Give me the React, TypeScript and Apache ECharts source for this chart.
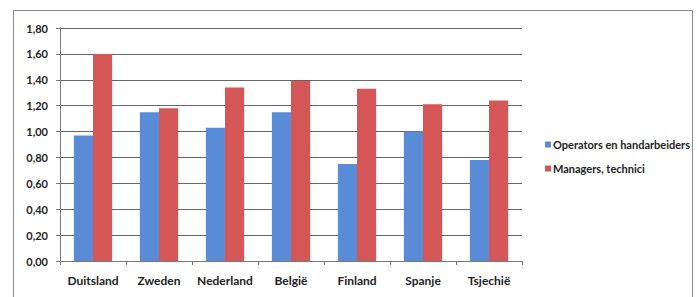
import React, { useEffect, useRef } from "react";
import * as echarts from "echarts";

const categories = ["Duitsland", "Zweden", "Nederland", "België", "Finland", "Spanje", "Tsjechië"];
const operators = [0.97, 1.15, 1.03, 1.15, 0.75, 1.0, 0.78];
const managers = [1.6, 1.18, 1.34, 1.39, 1.33, 1.21, 1.24];
const seriesNames = ["Operators en handarbeiders", "Managers, technici"];

const FONT = "Lato, 'Noto Sans', sans-serif";

export default function App() {
  const ref = useRef<HTMLDivElement>(null);
  useEffect(() => {
    document.body.style.margin = "0";
    const chart = echarts.init(ref.current!, null, { renderer: "svg" });
    chart.setOption({
      animation: false,
      backgroundColor: "#ffffff",
      textStyle: { fontFamily: FONT },
      graphic: [
        {
          type: "rect",
          shape: { x: 13.5, y: 10.5, width: 679, height: 320 },
          style: { fill: "none", stroke: "#8a8a8a", lineWidth: 1 },
          silent: true,
        },
      ],
      grid: { left: 60, right: 175, top: 28, bottom: 36 },
      legend: {
        orient: "vertical",
        left: 540,
        top: 134,
        itemWidth: 6,
        itemHeight: 6,
        itemGap: 13,
        icon: "rect",
        textStyle: { fontSize: 11, fontWeight: "bold", color: "#222", fontFamily: FONT, padding: [0, 0, 0, -3] },
        data: seriesNames,
      },
      xAxis: {
        type: "category",
        data: categories,
        axisLine: { lineStyle: { color: "#777" } },
        axisTick: { show: true, length: 4, lineStyle: { color: "#777" } },
        axisLabel: { interval: 0, margin: 13, fontSize: 12, fontWeight: "bold", color: "#222", fontFamily: FONT },
      },
      yAxis: {
        type: "value",
        min: 0,
        max: 1.8,
        interval: 0.2,
        axisLine: { show: true, lineStyle: { color: "#777" } },
        axisTick: { show: true, length: 4, lineStyle: { color: "#777" } },
        splitLine: { lineStyle: { color: "#666", width: 1 } },
        axisLabel: {
          margin: 12,
          fontSize: 11,
          fontWeight: "bold",
          color: "#222",
          fontFamily: FONT,
          formatter: (v: number) => v.toFixed(2).replace(".", ","),
        },
      },
      series: [
        {
          name: seriesNames[0],
          type: "bar",
          data: operators,
          barGap: "0%",
          barCategoryGap: "42%",
          itemStyle: { color: "#5a8bd6" },
        },
        {
          name: seriesNames[1],
          type: "bar",
          data: managers,
          barGap: "0%",
          barCategoryGap: "42%",
          itemStyle: { color: "#d45656" },
        },
      ],
    });
    return () => chart.dispose();
  }, []);
  return <div ref={ref} style={{ width: 697, height: 297 }} />;
}
